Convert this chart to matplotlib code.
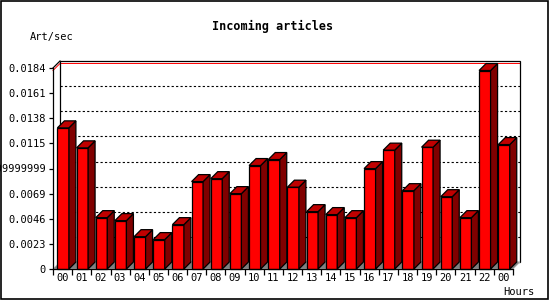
import matplotlib
matplotlib.use("Agg")
import matplotlib.pyplot as plt
from matplotlib.patches import Polygon, Rectangle

# data
hours = ["00", "01", "02", "03", "04", "05", "06", "07", "08", "09", "10", "11",
         "12", "13", "14", "15", "16", "17", "18", "19", "20", "21", "22", "00"]
rate = [0.01292, 0.01109, 0.00470, 0.00443, 0.00296, 0.00269, 0.00406, 0.00800,
        0.00827, 0.00690, 0.00947, 0.01002, 0.00749, 0.00525, 0.00498, 0.00470,
        0.00919, 0.01088, 0.00717, 0.01115, 0.00662, 0.00470, 0.01817, 0.01139]
yticks = [0, 0.0023, 0.0046, 0.0069, 0.0092, 0.0115, 0.0138, 0.0161, 0.0184]
ytick_labels = ["0", "0.0023", "0.0046", "0.0069", "0.0091999999999",
                "0.0115", "0.0138", "0.0161", "0.0184"]

mono = "DejaVu Sans Mono"
W, H = 550, 300
fig = plt.figure(figsize=(5.5, 3.0), dpi=100)
ax_left, ax_right, ax_bottom, ax_top = 53, 513, 269, 68
ax = fig.add_axes([ax_left / W, (H - ax_bottom) / H,
                   (ax_right - ax_left) / W, (ax_bottom - ax_top) / H])

n = len(rate)
ymax = yticks[-1]
ax.set_xlim(0, n)
ax.set_ylim(0, ymax)

# 3D depth in data units (7 px)
px_x = n / (ax_right - ax_left)
px_y = ymax / (ax_bottom - ax_top)
dx, dy = 7 * px_x, 7 * px_y

# back plane
ax.add_patch(Rectangle((dx, dy), n, ymax, facecolor="white", edgecolor="none",
                       clip_on=False, zorder=1))
for v in yticks[1:-1]:
    ax.plot([dx, n + dx], [v + dy, v + dy], color="black", lw=0.8,
            linestyle=(0, (2, 2)), clip_on=False, zorder=2)
ax.plot([0, dx, n + dx], [ymax - 2.5 * px_y, ymax + dy - 2.5 * px_y, ymax + dy - 2.5 * px_y],
        color="red", lw=0.7, clip_on=False, zorder=2)
ax.add_patch(Rectangle((dx, dy), n, ymax, fill=False, edgecolor="black",
                       lw=0.9, clip_on=False, zorder=2.5))
ax.plot([0, dx], [ymax, ymax + dy], color="black", lw=0.9, clip_on=False, zorder=2.5)

# floor
ax.add_patch(Polygon([(0, 0), (n, 0), (n + dx, dy), (dx, dy)], closed=True,
                     facecolor="#808080", edgecolor="#b0b0b0", lw=0.6,
                     clip_on=False, zorder=3))

# bars
off, bw = 0.23, 0.60
for i, v in enumerate(rate):
    x0 = i + off
    x1 = x0 + bw
    ec = dict(edgecolor="black", lw=0.9, clip_on=False, zorder=4)
    ax.add_patch(Polygon([(x0, 0), (x1, 0), (x1, v), (x0, v)], facecolor="#ff0000", **ec))
    ax.add_patch(Polygon([(x1, 0), (x1 + dx, dy), (x1 + dx, v + dy), (x1, v)],
                         facecolor="#800000", **ec))
    ax.add_patch(Polygon([(x0, v), (x1, v), (x1 + dx, v + dy), (x0 + dx, v + dy)],
                         facecolor="#c00000", **ec))

# axes
for s in ["top", "right"]:
    ax.spines[s].set_visible(False)
for s in ["left", "bottom"]:
    ax.spines[s].set_linewidth(0.9)
    ax.spines[s].set_zorder(5)
ax.set_yticks(yticks)
ax.set_yticklabels(ytick_labels, fontfamily=mono, fontsize=7.5)
ax.set_xticks(range(n + 1))
ax.set_xticklabels([])
ax.set_xticks([i + 0.5 for i in range(n)], minor=True)
ax.set_xticklabels(hours, minor=True, fontfamily=mono, fontsize=7.5)
ax.tick_params(axis="y", length=3, width=0.9, pad=2)
ax.tick_params(axis="x", which="major", length=4, width=0.9)
ax.tick_params(axis="x", which="minor", length=0, pad=3)
ax.set_facecolor("none")

fig.text(273 / W, 1 - 26 / H, "Incoming articles", ha="center", va="center",
         fontfamily=mono, fontweight="bold", fontsize=8.5)
fig.text(30 / W, 1 - 37 / H, "Art/sec", ha="left", va="center",
         fontfamily=mono, fontsize=7.5)
fig.text(534 / W, 1 - 292 / H, "Hours", ha="right", va="center",
         fontfamily=mono, fontsize=7.5)

fig.patches.append(Rectangle((0.5 / W, 1.5 / H), 547.5 / W, 297.5 / H,
                             transform=fig.transFigure, fill=False,
                             edgecolor="black", lw=1.2, joinstyle="miter"))

fig.savefig("out.png", dpi=100)
